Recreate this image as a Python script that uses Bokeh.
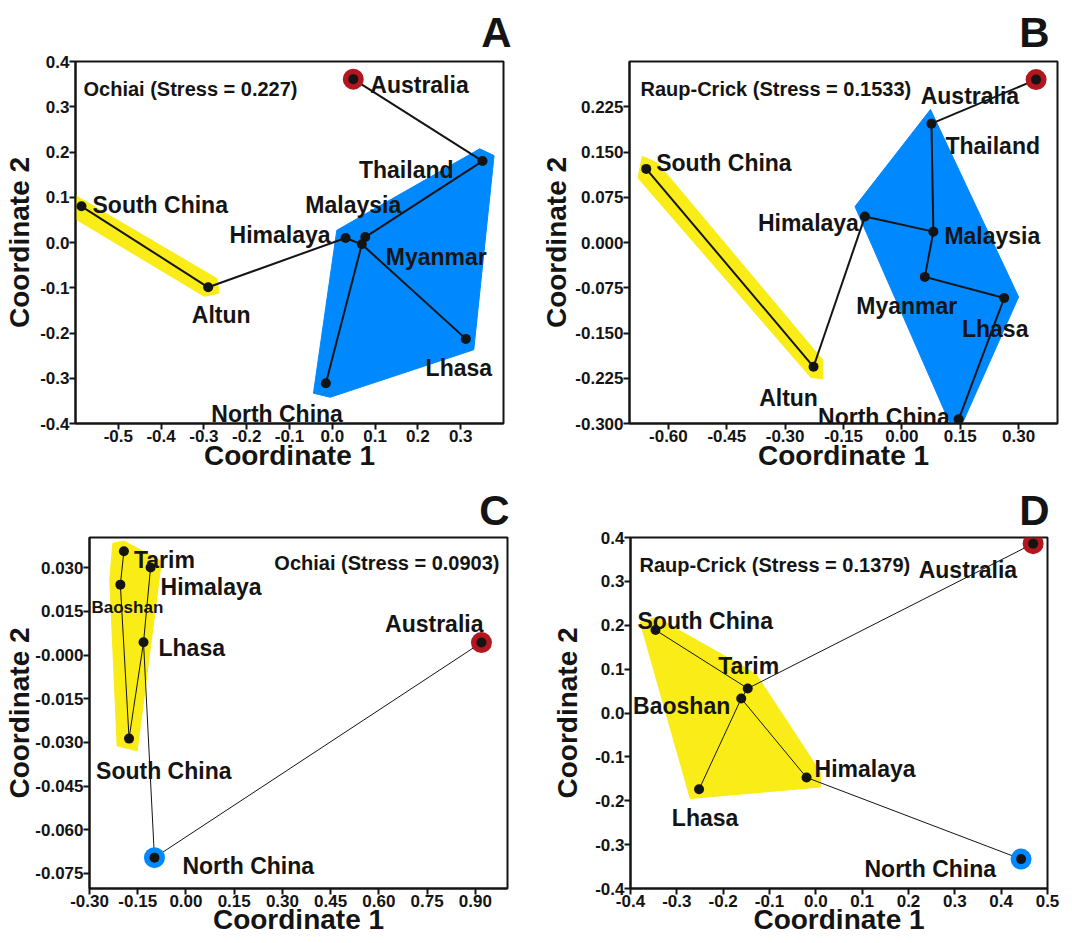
from bokeh.plotting import figure
from bokeh.layouts import column, row
from bokeh.models import FixedTicker, PrintfTickFormatter, Label
from bokeh.core.properties import value
from bokeh.embed import file_html
from bokeh.resources import INLINE

# ---------------- data ----------------
# Panel A  (Ochiai)
A_names = ["Australia", "Thailand", "Malaysia", "Himalaya", "Myanmar", "Lhasa",
           "North China", "South China", "Altun"]
A_x = [0.049, 0.351, 0.077, 0.031, 0.069, 0.312, -0.015, -0.586, -0.290]
A_y = [0.361, 0.180, 0.012, 0.010, -0.004, -0.213, -0.311, 0.080, -0.099]
A_edges = [("Australia", "Thailand"), ("Thailand", "Malaysia"), ("Malaysia", "Myanmar"),
           ("Himalaya", "Myanmar"), ("Myanmar", "Lhasa"), ("Myanmar", "North China"),
           ("Himalaya", "Altun"), ("Altun", "South China")]
A_yellow_x = [-0.600, -0.269, -0.265, -0.299, -0.600]
A_yellow_y = [0.104, -0.080, -0.112, -0.119, 0.052]
A_blue_x = [0.0105, 0.3445, 0.378, 0.3305, -0.005, -0.044]
A_blue_y = [0.027, 0.207, 0.192, -0.237, -0.342, -0.333]
A_xticks = [-0.5, -0.4, -0.3, -0.2, -0.1, 0.0, 0.1, 0.2, 0.3]
A_yticks = [-0.4, -0.3, -0.2, -0.1, 0.0, 0.1, 0.2, 0.3, 0.4]

# Panel B  (Raup-Crick)
B_names = ["Australia", "Thailand", "Malaysia", "Himalaya", "Myanmar", "Lhasa",
           "North China", "South China", "Altun"]
B_x = [0.345, 0.076, 0.081, -0.095, 0.059, 0.263, 0.146, -0.657, -0.227]
B_y = [0.270, 0.197, 0.018, 0.043, -0.057, -0.092, -0.293, 0.122, -0.206]
B_edges = [("Australia", "Thailand"), ("Thailand", "Malaysia"), ("Malaysia", "Himalaya"),
           ("Malaysia", "Myanmar"), ("Myanmar", "Lhasa"), ("Lhasa", "North China"),
           ("Himalaya", "Altun"), ("Altun", "South China")]
B_yellow_x = [-0.667, -0.627, -0.203, -0.203, -0.234, -0.678]
B_yellow_y = [0.143, 0.131, -0.195, -0.226, -0.2235, 0.107]
B_blue_x = [0.0736, 0.300, 0.1395, -0.1205]
B_blue_y = [0.2205, -0.0903, -0.323, 0.0595]
B_xticks = [-0.60, -0.45, -0.30, -0.15, 0.0, 0.15, 0.30]
B_yticks = [-0.300, -0.225, -0.150, -0.075, 0.0, 0.075, 0.150, 0.225]

# Panel C  (Ochiai)
C_names = ["Tarim", "Himalaya", "Baoshan", "Lhasa", "South China", "North China", "Australia"]
C_x = [-0.193, -0.110, -0.204, -0.132, -0.177, -0.098, 0.919]
C_y = [0.0357, 0.0301, 0.0242, 0.0044, -0.0287, -0.0696, 0.0043]
C_edges = [("Tarim", "Baoshan"), ("Baoshan", "South China"), ("South China", "Lhasa"),
           ("Lhasa", "Himalaya"), ("Lhasa", "North China"), ("North China", "Australia")]
C_yellow_x = [-0.2275, -0.1934, -0.0762, -0.1517, -0.2139, -0.2369]
C_yellow_y = [0.0384, 0.0392, 0.0323, -0.0329, -0.0312, 0.0257]
C_xticks = [-0.30, -0.15, 0.0, 0.15, 0.30, 0.45, 0.60, 0.75, 0.90]
C_yticks = [-0.075, -0.060, -0.045, -0.030, -0.015, 0.0, 0.015, 0.030]

# Panel D  (Raup-Crick)
D_names = ["Australia", "South China", "Tarim", "Baoshan", "Himalaya", "Lhasa", "North China"]
D_x = [0.469, -0.346, -0.147, -0.161, -0.020, -0.252, 0.443]
D_y = [0.386, 0.189, 0.056, 0.033, -0.147, -0.174, -0.333]
D_edges = [("South China", "Tarim"), ("Tarim", "Australia"), ("Tarim", "Baoshan"),
           ("Baoshan", "Lhasa"), ("Baoshan", "Himalaya"), ("Himalaya", "North China")]
D_yellow_x = [-0.379, -0.3445, -0.1538, -0.1285, 0.0097, 0.0097, -0.271]
D_yellow_y = [0.2067, 0.218, 0.1043, 0.0877, -0.1346, -0.1687, -0.195]
D_xticks = [-0.4, -0.3, -0.2, -0.1, 0.0, 0.1, 0.2, 0.3, 0.4, 0.5]
D_yticks = [-0.4, -0.3, -0.2, -0.1, 0.0, 0.1, 0.2, 0.3, 0.4]

# ---------------- styles ----------------
SANS = "Liberation Sans"
INK = "#141414"
RED = "#B3161E"
BLUE = "#0088FF"
YELLOW = "#F9EC17"

# label placement: name -> (dx px, dy px (down, to baseline), align)
A_lab = {"Australia": (17, 6, "left"), "Thailand": (-29, 9, "right"),
         "Malaysia": (-12, -32, "center"), "Himalaya": (-15, -3, "right"),
         "Myanmar": (24, 13, "left"), "Lhasa": (-7, 29, "center"),
         "North China": (17, 31, "right"), "South China": (11, -1, "left"),
         "Altun": (13, 28, "center")}
B_lab = {"Australia": (-17, 16, "right"), "Thailand": (14, 22, "left"),
         "South China": (10, -6, "left"), "Himalaya": (-6, 6, "right"),
         "Malaysia": (11, 4, "left"), "Myanmar": (-18, 29, "center"),
         "Lhasa": (-9, 31, "center"), "Altun": (-25, 31, "center"),
         "North China": (-9, -2, "right")}
C_lab = {"Tarim": (10, 9, "left"), "Himalaya": (10, 20, "left"),
         "Baoshan": (7, 23, "center"), "Lhasa": (15, 6, "left"),
         "Australia": (2, -19, "right"), "South China": (-33, 32, "left"),
         "North China": (28, 8, "left")}
D_lab = {"Australia": (-16, 26, "right"), "South China": (-18, -9, "left"),
         "Tarim": (1, -22, "center"), "Baoshan": (-11, 7, "right"),
         "Himalaya": (8, -8, "left"), "Lhasa": (6, 29, "center"),
         "North China": (-25, 10, "right")}


def panel(letter, names, xs, ys, edges, hulls, highlights, labels, label_sizes,
          stress, stress_pos, xr, yr, xticks, yticks, xfmt, yfmt, geom, lw,
          y_override=None):
    w, h, bl, br, bt, bb, ystand, xstand, toff, tstand = geom
    p = figure(width=w, height=h, x_range=xr, y_range=yr,
               output_backend="svg", toolbar_location=None,
               min_border_left=bl, min_border_right=br,
               min_border_top=bt, min_border_bottom=bb)
    p.background_fill_color = "white"
    p.border_fill_color = "white"
    p.grid.visible = False
    p.outline_line_color = INK
    p.outline_line_width = 2
    p.outline_line_alpha = 1.0

    p.title.text = letter
    p.title.text_font = SANS
    p.title.text_font_style = "bold"
    p.title.text_font_size = "42px"
    p.title.text_color = INK
    p.title.align = "right"
    p.title.offset = toff
    p.title.standoff = tstand

    p.xaxis.ticker = FixedTicker(ticks=xticks)
    p.yaxis.ticker = FixedTicker(ticks=yticks)
    p.xaxis.formatter = PrintfTickFormatter(format=xfmt)
    p.yaxis.formatter = PrintfTickFormatter(format=yfmt)
    if y_override:
        p.yaxis.major_label_overrides = y_override
    p.xaxis.axis_label = "Coordinate 1"
    p.yaxis.axis_label = "Coordinate 2"
    for ax in (p.xaxis, p.yaxis):
        ax.axis_line_width = 2
        ax.axis_line_color = INK
        ax.major_tick_line_width = 2
        ax.major_tick_line_color = INK
        ax.major_tick_out = 6
        ax.major_tick_in = 0
        ax.minor_tick_out = 0
        ax.minor_tick_in = 0
        ax.major_label_standoff = 0
        ax.major_label_text_font = SANS
        ax.major_label_text_font_style = "bold"
        ax.major_label_text_font_size = "17px"
        ax.major_label_text_color = INK
        ax.axis_label_text_font = SANS
        ax.axis_label_text_font_style = "bold"
        ax.axis_label_text_font_size = "28px"
        ax.axis_label_text_color = INK
    p.xaxis.axis_label_standoff = xstand
    p.yaxis.axis_label_standoff = ystand

    for hx, hy, col in hulls:
        p.patch(hx, hy, fill_color=col, line_color=col, line_width=1)

    idx = {n: i for i, n in enumerate(names)}
    x0 = [xs[idx[a]] for a, b in edges]
    y0 = [ys[idx[a]] for a, b in edges]
    x1 = [xs[idx[b]] for a, b in edges]
    y1 = [ys[idx[b]] for a, b in edges]
    p.segment(x0, y0, x1, y1, line_color=INK, line_width=lw)

    for n, col in highlights.items():
        p.scatter([xs[idx[n]]], [ys[idx[n]]], size=21, fill_color=col,
                  line_color=None, marker="circle")
    p.scatter(xs, ys, size=10, fill_color=INK, line_color=None, marker="circle")

    for n in names:
        dx, dy, align = labels[n]
        fs = label_sizes.get(n, 23)
        p.text([xs[idx[n]]], [ys[idx[n]]], text=[n],
               x_offset=dx, y_offset=dy,
               text_align=align, text_baseline="alphabetic",
               text_font=value(SANS), text_font_style="bold",
               text_font_size=f"{fs}px", text_color=INK)

    sx, sy, salign = stress_pos
    p.add_layout(Label(x=xr[0] if salign == "left" else xr[1], y=yr[1],
                       x_offset=sx, y_offset=sy, text=stress,
                       text_align=salign, text_baseline="alphabetic",
                       text_font=SANS, text_font_style="bold",
                       text_font_size="20px", text_color=INK))
    return p


pA = panel("A", A_names, A_x, A_y, A_edges,
           [(A_yellow_x, A_yellow_y, YELLOW), (A_blue_x, A_blue_y, BLUE)],
           {"Australia": RED}, A_lab, {}, "Ochiai (Stress = 0.227)", (8, -27.5, "left"),
           (-0.6, 0.4), (-0.4, 0.4), A_xticks, A_yticks, "%.1f", "%.1f",
           (536, 478, 75, 33, 61, 55, 2, -5, -8, 11), 2)
pB = panel("B", B_names, B_x, B_y, B_edges,
           [(B_yellow_x, B_yellow_y, YELLOW), (B_blue_x, B_blue_y, BLUE)],
           {"Australia": RED}, B_lab, {}, "Raup-Crick (Stress = 0.1533)", (11, -27.5, "left"),
           (-0.7, 0.4), (-0.3, 0.3), B_xticks, B_yticks, "%.2f", "%.3f",
           (534, 478, 93, 13, 61, 55, 0, -5, 8, 11), 2)
pC = panel("C", C_names, C_x, C_y, C_edges,
           [(C_yellow_x, C_yellow_y, YELLOW)],
           {"Australia": RED, "North China": BLUE}, C_lab, {"Baoshan": 17},
           "Ochiai (Stress = 0.0903)", (-8, -25.5, "right"),
           (-0.3, 1.0), (-0.0802, 0.0404), C_xticks, C_yticks, "%.2f", "%.3f",
           (536, 464, 89, 29, 59, 54, -3, -6, -2, 8), 1, y_override={0.0: "-0.000"})
pD = panel("D", D_names, D_x, D_y, D_edges,
           [(D_yellow_x, D_yellow_y, YELLOW)],
           {"Australia": RED, "North China": BLUE}, D_lab, {},
           "Raup-Crick (Stress = 0.1379)", (9, -27.5, "left"),
           (-0.4, 0.5), (-0.4, 0.4), D_xticks, D_yticks, "%.1f", "%.1f",
           (534, 464, 94, 23, 59, 54, 9, -6, -2, 8), 1)

layout = column(row(pA, pB), row(pC, pD))
open("out.html", "w").write(file_html(layout, INLINE))
